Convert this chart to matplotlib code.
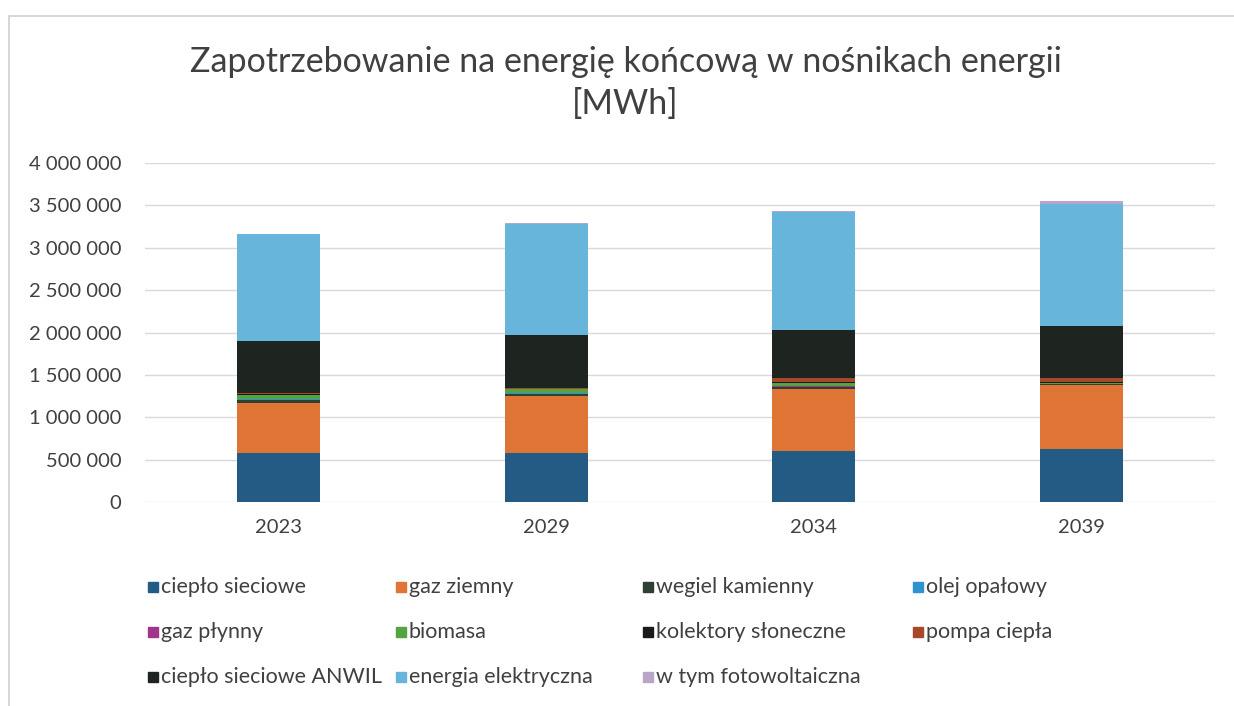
import matplotlib.pyplot as plt
from matplotlib.patches import Rectangle
import numpy as np

plt.rcParams['font.family'] = ['Lato', 'DejaVu Sans']

# dane [MWh]
lata = ['2023', '2029', '2034', '2039']
cieplo_sieciowe = [578000, 580000, 600000, 625000]
gaz_ziemny = [590000, 670000, 730000, 755000]
wegiel_kamienny = [40000, 30000, 25000, 10000]
olej_opalowy = [8000, 7000, 6000, 3000]
gaz_plynny = [5000, 5000, 5000, 3000]
biomasa = [45000, 38000, 40000, 12000]
kolektory = [5000, 6000, 8000, 8000]
pompa_ciepla = [10000, 10000, 45000, 47000]
cieplo_anwil = [614000, 625000, 565000, 614000]
energia_elektryczna = [1262000, 1315000, 1400000, 1440000]
fotowoltaika = [3000, 5000, 10000, 35000]

serie = [
    ('ciepło sieciowe', cieplo_sieciowe, '#235B84'),
    ('gaz ziemny', gaz_ziemny, '#DE7535'),
    ('wegiel kamienny', wegiel_kamienny, '#2E4034'),
    ('olej opałowy', olej_opalowy, '#2F93D0'),
    ('gaz płynny', gaz_plynny, '#A2348C'),
    ('biomasa', biomasa, '#55A33E'),
    ('kolektory słoneczne', kolektory, '#1A1A1A'),
    ('pompa ciepła', pompa_ciepla, '#A8482A'),
    ('ciepło sieciowe ANWIL', cieplo_anwil, '#1E2420'),
    ('energia elektryczna', energia_elektryczna, '#67B5DA'),
    ('w tym fotowoltaiczna', fotowoltaika, '#B9A5C9'),
]

W, H = 1234, 706
fig = plt.figure(figsize=(W / 100, H / 100), dpi=100)
ax = fig.add_axes([145 / W, 1 - 502 / H, 1070 / W, 339 / H])

x = np.arange(len(lata))
dol = np.zeros(len(lata))
for nazwa, wart, kolor in serie:
    ax.bar(x, wart, width=0.31, bottom=dol, color=kolor, label=nazwa)
    dol += np.array(wart)

ax.set_xlim(-0.5, 3.5)
ax.set_ylim(0, 4000000)
ax.set_yticks(np.arange(0, 4000001, 500000))
ax.yaxis.set_major_formatter(plt.FuncFormatter(lambda v, p: f'{int(v):,}'.replace(',', ' ')))
ax.set_xticks(x)
ax.set_xticklabels(lata)
ax.tick_params(axis='both', length=0, labelsize=14.5, colors='#404040')
ax.tick_params(axis='y', pad=17)
ax.tick_params(axis='x', pad=12)
ax.grid(axis='y', color='#D9D9D9', linewidth=1)
ax.set_axisbelow(True)
for s in ax.spines.values():
    s.set_visible(False)

fig.text(0.507, 1 - 62 / H, 'Zapotrzebowanie na energię końcową w nośnikach energii',
         ha='center', va='center', fontsize=24.5, color='#404040')
fig.text(0.507, 1 - 104 / H, '[MWh]', ha='center', va='center', fontsize=24.5, color='#404040')

# ramka wykresu
fig.patches.append(Rectangle((9 / W, -0.1), 2, 1.1 - 16 / H, transform=fig.transFigure,
                             fill=False, edgecolor='#D0D0D0', linewidth=1.2))

# legenda (3 wiersze x 4 kolumny)
kol_x = [148, 396, 643, 913]
wiersz_y = [587, 632, 677]
for i, (nazwa, wart, kolor) in enumerate(serie):
    r, c = divmod(i, 4)
    x0, y0 = kol_x[c], wiersz_y[r]
    fig.patches.append(Rectangle((x0 / W, 1 - (y0 + 5) / H), 10 / W, 10 / H,
                                 transform=fig.transFigure, color=kolor))
    fig.text((x0 + 13) / W, 1 - y0 / H, nazwa, ha='left', va='center',
             fontsize=15.5, color='#404040')

fig.savefig('out.png', dpi=100)
